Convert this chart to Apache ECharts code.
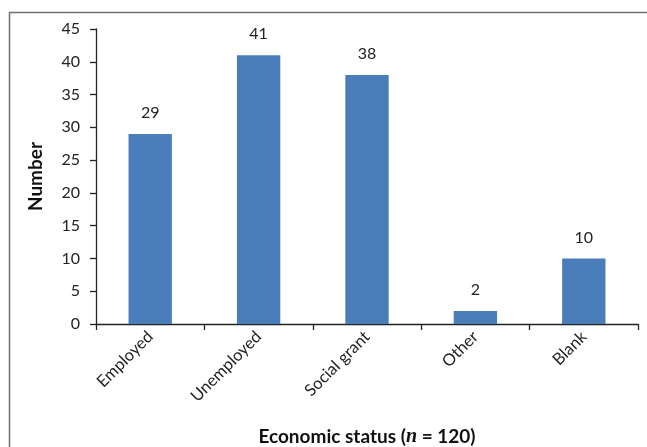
<!DOCTYPE html>
<html>
<head>
<meta charset="utf-8">
<script src="https://cdn.jsdelivr.net/npm/echarts@6/dist/echarts.min.js"></script>
<style>
html,body{margin:0;padding:0;background:#fff;overflow:hidden;}
#chart{width:647px;height:447px;}
</style>
</head>
<body>
<div id="chart"></div>
<script>
const categories = ['Employed', 'Unemployed', 'Social grant', 'Other', 'Blank'];
const counts = [29, 41, 38, 2, 10];
const yTicks = [0, 5, 10, 15, 20, 25, 30, 35, 40, 45];

const FONT = 'Lato';
const chart = echarts.init(document.getElementById('chart'), null, {renderer: 'canvas'});
chart.setOption({
  animation: false,
  backgroundColor: '#ffffff',
  graphic: [{
    type: 'rect',
    shape: {x: 9.5, y: 12.5, width: 700, height: 500},
    style: {fill: 'none', stroke: '#6f6f6f', lineWidth: 1.5},
    silent: true
  }],
  grid: {left: 96, top: 29, right: 9, bottom: 123, containLabel: false, outerBoundsMode: 'none'},
  xAxis: {
    type: 'category',
    data: categories,
    axisLine: {lineStyle: {color: '#222', width: 1.3}},
    axisTick: {show: true, length: 6, alignWithLabel: false, lineStyle: {color: '#222', width: 1.3}},
    axisLabel: {rotate: 45, margin: 10, fontFamily: FONT, fontSize: 16.5, color: '#222'},
    name: '{b|Economic status (}{i|n}{b| = 120)}',
    nameLocation: 'middle',
    nameGap: 103,
    nameTextStyle: {
      rich: {
        b: {fontFamily: FONT, fontSize: 19, fontWeight: 'bold', color: '#111'},
        i: {fontFamily: 'Liberation Serif', fontSize: 20, fontWeight: 'bold', fontStyle: 'italic', color: '#111'}
      }
    }
  },
  yAxis: {
    type: 'value',
    min: yTicks[0],
    max: yTicks[yTicks.length - 1],
    interval: 5,
    splitLine: {show: false},
    axisLine: {show: true, lineStyle: {color: '#222', width: 1.3}},
    axisTick: {show: true, length: 6, lineStyle: {color: '#222', width: 1.3}},
    axisLabel: {margin: 16, fontFamily: FONT, fontSize: 16, color: '#222'},
    name: 'Number',
    nameLocation: 'middle',
    nameGap: 51,
    nameRotate: 90,
    nameTextStyle: {fontFamily: FONT, fontSize: 19, fontWeight: 'bold', color: '#111'}
  },
  series: [{
    type: 'bar',
    data: counts,
    barWidth: '40%',
    itemStyle: {color: '#4a7ebb'},
    label: {show: true, position: 'top', distance: 13, fontFamily: FONT, fontSize: 16, color: '#222'}
  }]
});
</script>
</body>
</html>
